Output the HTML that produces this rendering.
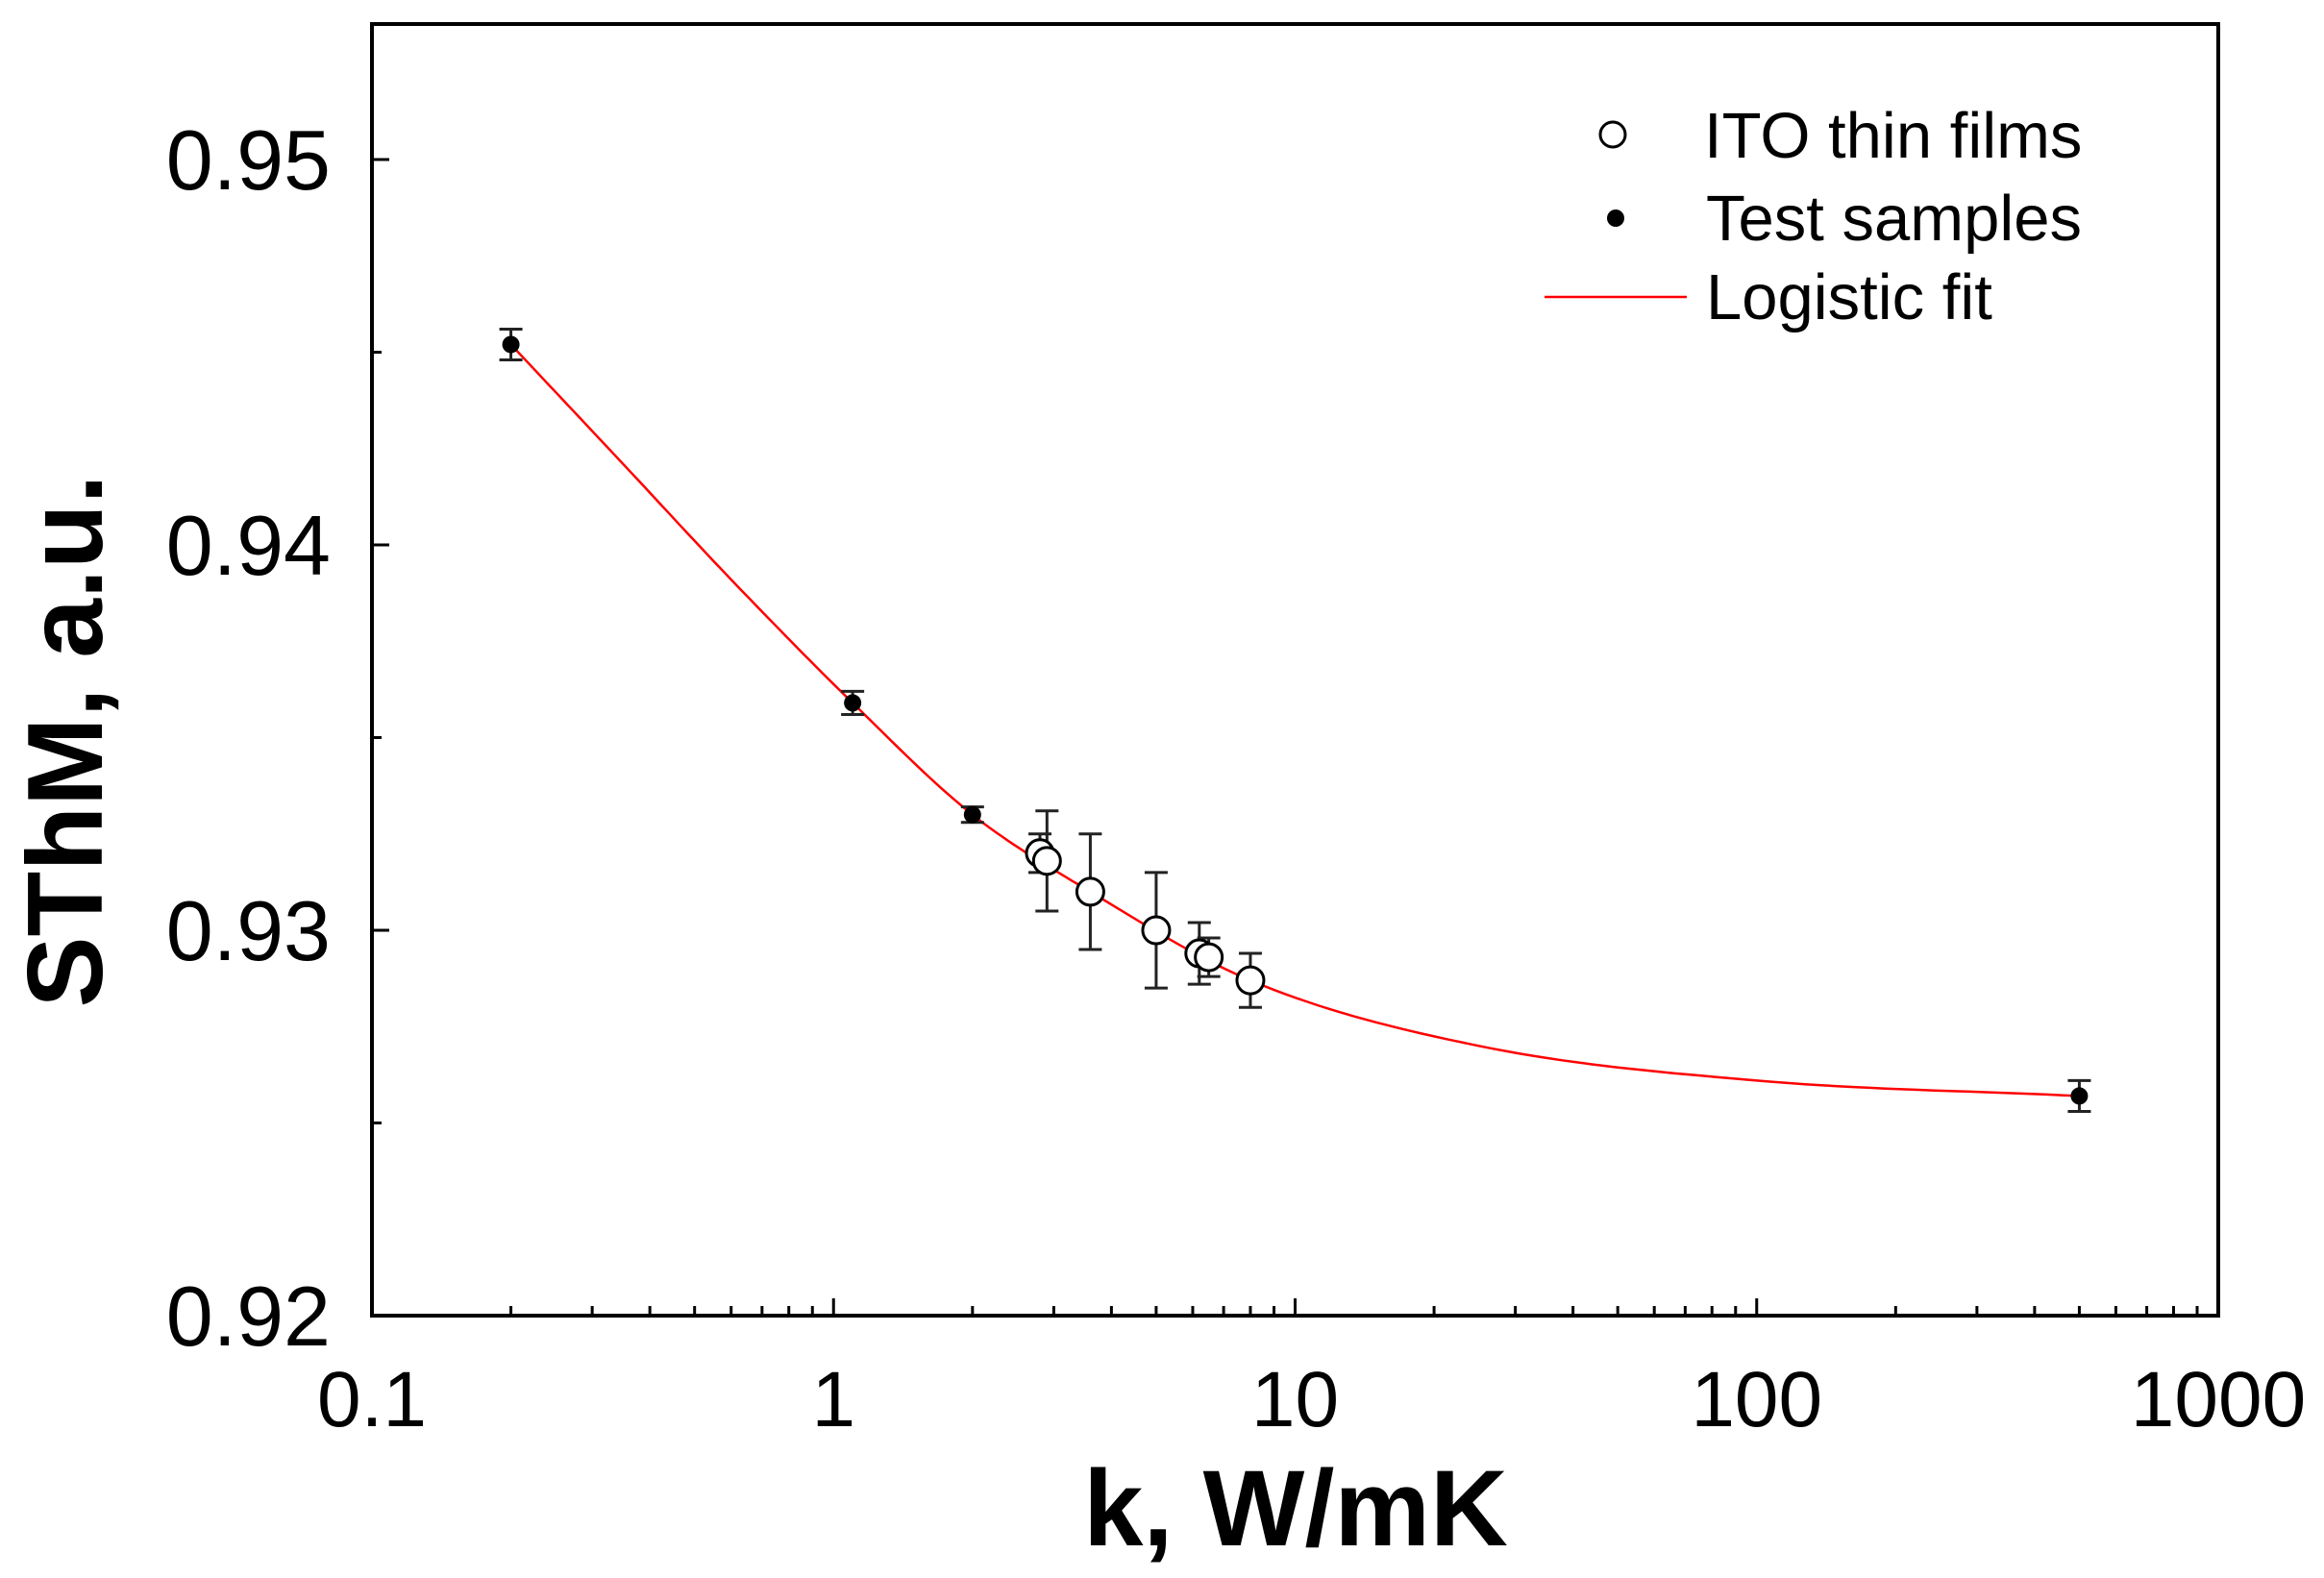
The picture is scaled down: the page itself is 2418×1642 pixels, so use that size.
<!DOCTYPE html>
<html><head><meta charset="utf-8"><style>
html,body{margin:0;padding:0;background:#fff;}
svg{display:block;}
text{font-family:"Liberation Sans",Arial,sans-serif;fill:#000;}
</style></head><body>
<svg id="s" width="2418" height="1642" viewBox="0 0 2418 1642" xmlns="http://www.w3.org/2000/svg"></svg>
<script>
const L=387,R=2308,T=25,B=1369;
const X=k=>L+(Math.log10(k)+1)*480.25;
const Y=v=>B-(v-0.92)*40100;
let h='';
h+=`<rect x="${L}" y="${T}" width="${R-L}" height="${B-T}" fill="none" stroke="#000" stroke-width="4"/>`;
for(let d=-1;d<3;d++){for(let m=1;m<10;m++){const k=m*Math.pow(10,d);const x=X(k);const len=m==1?18:10;h+=`<line x1="${x}" y1="${B}" x2="${x}" y2="${B-len}" stroke="#000" stroke-width="3"/>`;}}
const xl=[[0.1,'0.1'],[1,'1'],[10,'10'],[100,'100'],[1000,'1000']];
xl.forEach(([k,t])=>{h+=`<text x="${X(k)}" y="1484" font-size="82" text-anchor="middle">${t}</text>`;});
for(let i=0;i<7;i++){const v=0.92+i*0.005;if(v>0.9535)break;const y=Y(v);const len=i%2==0?18:10;h+=`<line x1="${L}" y1="${y}" x2="${L+len}" y2="${y}" stroke="#000" stroke-width="3"/>`;}
[[0.92,'0.92'],[0.93,'0.93'],[0.94,'0.94'],[0.95,'0.95']].forEach(([v,t])=>{h+=`<text x="344" y="${Y(v)+31}" font-size="88" text-anchor="end">${t}</text>`;});
h+=`<text x="0" y="0" font-size="111" font-weight="bold" text-anchor="middle" transform="translate(106,771) rotate(-90)">SThM, a.u.</text>`;
h+=`<text x="1348" y="1608" font-size="112" font-weight="bold" text-anchor="middle">k, W/mK</text>`;
const P=[[0.2,.9452],[0.35,.9421],[0.6,.9391],[1.1,.9359],[2,.9330],[3.6,.9310],[8,.9287],[25,.9270],[100,.9261],[500,.9257]];
const xs=P.map(p=>Math.log10(p[0])),ys=P.map(p=>p[1]);const n=P.length;
const dl=[],m=[];for(let i=0;i<n-1;i++)dl.push((ys[i+1]-ys[i])/(xs[i+1]-xs[i]));
m[0]=dl[0];m[n-1]=dl[n-2];for(let i=1;i<n-1;i++){m[i]=(dl[i-1]+dl[i])/2;}
let pts=[];
for(let i=0;i<n-1;i++){const hh=xs[i+1]-xs[i];for(let j=0;j<20;j++){const t=j/20;const t2=t*t,t3=t2*t;
const y=(2*t3-3*t2+1)*ys[i]+(t3-2*t2+t)*hh*m[i]+(-2*t3+3*t2)*ys[i+1]+(t3-t2)*hh*m[i+1];
const x=xs[i]+t*hh;pts.push(`${(L+(x+1)*480.25).toFixed(1)},${Y(y).toFixed(1)}`);}}
pts.push(`${X(500).toFixed(1)},${Y(.9257).toFixed(1)}`);
h+=`<polyline points="${pts.join(' ')}" fill="none" stroke="#f00" stroke-width="2.5"/>`;
function eb(k,v,e){const x=X(k);return `<line x1="${x}" y1="${Y(v+e)}" x2="${x}" y2="${Y(v-e)}" stroke="#222" stroke-width="3"/><line x1="${x-12}" y1="${Y(v+e)}" x2="${x+12}" y2="${Y(v+e)}" stroke="#222" stroke-width="3"/><line x1="${x-12}" y1="${Y(v-e)}" x2="${x+12}" y2="${Y(v-e)}" stroke="#222" stroke-width="3"/>`;}
const tests=[[0.2,.9452,.0004],[1.1,.9359,.0003],[2,.9330,.0002],[500,.9257,.0004]];
tests.forEach(([k,v,e])=>{h+=eb(k,v,e)+`<circle cx="${X(k)}" cy="${Y(v)}" r="9" fill="#000"/>`;});
const ito=[[2.8,.9320,.0005],[2.9,.9318,.0013],[3.6,.9310,.0015],[5,.9300,.0015],[6.2,.9294,.0008],[6.5,.9293,.0005],[8,.9287,.0007]];
ito.forEach(([k,v,e])=>{h+=eb(k,v,e);});
ito.forEach(([k,v,e])=>{h+=`<circle cx="${X(k)}" cy="${Y(v)}" r="14" fill="#fff" stroke="#000" stroke-width="3"/>`;});
h+=`<circle cx="1678" cy="140" r="13" fill="#fff" stroke="#000" stroke-width="3"/>`;
h+=`<circle cx="1681" cy="227" r="9" fill="#000"/>`;
h+=`<line x1="1607" y1="309" x2="1755" y2="309" stroke="#f00" stroke-width="2.5"/>`;
h+=`<text x="1773" y="164" font-size="67">ITO thin films</text>`;
h+=`<text x="1775" y="250" font-size="67">Test samples</text>`;
h+=`<text x="1775" y="332" font-size="67">Logistic fit</text>`;
document.getElementById('s').innerHTML=h;
</script>
</body></html>
